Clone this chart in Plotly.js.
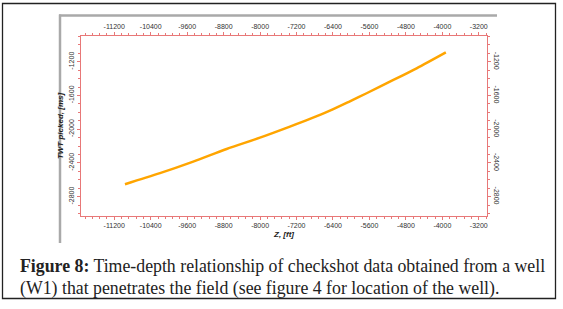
<!DOCTYPE html>
<html>
<head>
<meta charset="utf-8">
<script src="https://cdn.plot.ly/plotly-3.0.1.min.js"></script>
<style>html,body{margin:0;padding:0;background:#fff;}#chart{width:563px;height:309px;}</style>
</head>
<body>
<div id="chart"></div>
<script>
// Data (checkshot time-depth pairs)
const depthZ = [-10965, -10197, -9467, -8734, -8003, -7345, -6906, -6468, -6029, -5662, -5151, -4565, -3923];
const twtPicked = [-2653, -2522, -2385, -2235, -2101, -1970, -1879, -1781, -1670, -1574, -1437, -1278, -1089];
const xTickVals = [-11200, -10400, -9600, -8800, -8000, -7200, -6400, -5600, -4800, -4000, -3200];
const yTickVals = [-1200, -1600, -2000, -2400, -2800];
const xTitle = "Z, [ft]";
const yTitle = "TWT picked, [ms]";
const captionBold = "Figure 8:";
const captionLine1 = " Time-depth relationship of checkshot data obtained from a well";
const captionLine2 = "(W1) that penetrates the field (see figure 4 for location of the well).";

const W = 563, H = 309;
const L = 81, R = 487, T = 36, B = 216;
const pw = R - L, ph = B - T;
const px = v => (v - L) / pw;
const py = v => (B - v) / ph;

const xRange = [-11930, -3020];
const yRange = [-3030, -895];
const red = '#e87878';
const labelColor = '#333333';
const tickFont = () => ({family: 'Liberation Sans, Arial, sans-serif', size: 7, color: labelColor});

function axisCommon() {
  return {
    showgrid: false, zeroline: false, showline: true, linecolor: red, linewidth: 1,
    ticks: 'outside', ticklen: 3, tickcolor: red, tickwidth: 1, tickfont: tickFont(), color: labelColor
  };
}

const traces = [
  {x: depthZ, y: twtPicked, mode: 'lines', line: {color: '#ffa500', width: 2.5, shape: 'spline', smoothing: 0.8}, hoverinfo: 'none', showlegend: false},
  {x: depthZ, y: twtPicked, xaxis: 'x2', yaxis: 'y2', mode: 'lines', line: {color: 'rgba(0,0,0,0)', width: 0}, hoverinfo: 'none', showlegend: false}
];

const layout = {
  width: W, height: H,
  margin: {l: L, r: W - R, t: T, b: H - B, pad: 0},
  paper_bgcolor: '#fff', plot_bgcolor: '#fff',
  showlegend: false,
  xaxis: Object.assign(axisCommon(), {
    range: xRange, tickvals: xTickVals, ticktext: xTickVals.map(String), side: 'bottom',
    minor: {dtick: 160, tick0: 0, ticks: 'outside', ticklen: 2, tickcolor: red},
    title: {text: '<b><i>' + xTitle + '</i></b>', font: {family: 'Liberation Sans, Arial, sans-serif', size: 8, color: '#222'}, standoff: 2}
  }),
  yaxis: Object.assign(axisCommon(), {
    range: yRange, tickvals: yTickVals, ticktext: yTickVals.map(String), side: 'left', tickangle: -90,
    minor: {dtick: 100, tick0: 0, ticks: 'outside', ticklen: 2, tickcolor: red},
    title: {text: '<b><i>' + yTitle + '</i></b>', font: {family: 'Liberation Sans, Arial, sans-serif', size: 8, color: '#222'}, standoff: 3}
  }),
  xaxis2: Object.assign(axisCommon(), {
    range: xRange, tickvals: xTickVals, ticktext: xTickVals.map(String), side: 'top', overlaying: 'x',
    minor: {dtick: 160, tick0: 0, ticks: 'outside', ticklen: 2, tickcolor: red}
  }),
  yaxis2: Object.assign(axisCommon(), {
    range: yRange, tickvals: yTickVals, ticktext: yTickVals.map(String), side: 'right', overlaying: 'y', tickangle: 90,
    minor: {dtick: 100, tick0: 0, ticks: 'outside', ticklen: 2, tickcolor: red}
  }),
  shapes: [
    {type: 'rect', xref: 'paper', yref: 'paper', x0: px(2.5), x1: px(555.5), y0: py(298.5), y1: py(3.5),
     line: {color: '#222', width: 1.3}, fillcolor: 'rgba(0,0,0,0)', layer: 'below'},
    {type: 'line', xref: 'paper', yref: 'paper', x0: px(59), x1: px(497), y0: py(15.5), y1: py(15.5),
     line: {color: '#a9a9a9', width: 2.5}},
    {type: 'line', xref: 'paper', yref: 'paper', x0: px(60), x1: px(60), y0: py(14.5), y1: py(243),
     line: {color: '#a9a9a9', width: 2.5}}
  ],
  annotations: [
    {xref: 'paper', yref: 'paper', x: px(18), y: py(266), xanchor: 'left', yanchor: 'middle', showarrow: false,
     text: '<b>' + captionBold + '</b>' + captionLine1,
     font: {family: 'Liberation Serif, Times New Roman, serif', size: 17.8, color: '#222'}},
    {xref: 'paper', yref: 'paper', x: px(18), y: py(288), xanchor: 'left', yanchor: 'middle', showarrow: false,
     text: captionLine2,
     font: {family: 'Liberation Serif, Times New Roman, serif', size: 17.8, color: '#222'}}
  ]
};

Plotly.newPlot('chart', traces, layout, {displayModeBar: false, staticPlot: true});
</script>
</body>
</html>
